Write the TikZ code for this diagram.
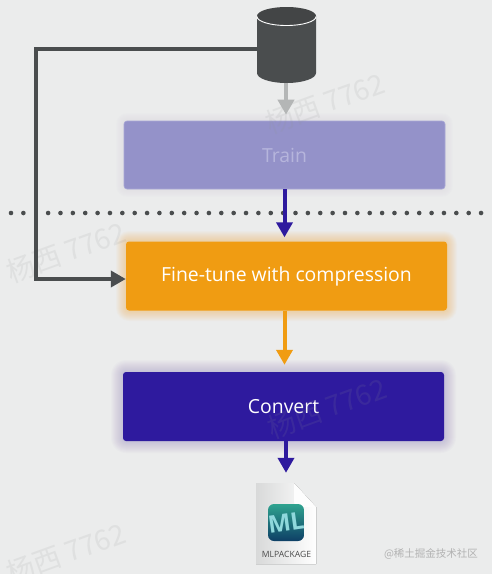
\documentclass[tikz,border=0pt]{standalone}
\usepackage{fontspec}
\setmainfont{Open Sans}
\newfontfamily\cjk{Noto Sans CJK SC}
\usetikzlibrary{arrows.meta,calc}
\definecolor{bg}{HTML}{EBECEC}
\definecolor{dbgrey}{HTML}{4A4D4E}
\definecolor{lightarrow}{HTML}{B4B6B6}
\definecolor{trainfill}{HTML}{9492C9}
\definecolor{trainedge}{HTML}{A9A8D6}
\definecolor{traintext}{HTML}{B6B5DC}
\definecolor{orangefill}{HTML}{F09C12}
\definecolor{indigo}{HTML}{2E1A9E}
\definecolor{wmark}{HTML}{8F9292}
\definecolor{iconteal}{HTML}{2FA38F}
\definecolor{icondeep}{HTML}{0E3F66}
\definecolor{iconice}{HTML}{8FD8DC}
\tikzset{
  x=1pt,y=-1pt,
  stage/.style={rounded corners=3pt,minimum width=321pt,minimum height=69pt,inner sep=0pt,font=\fontsize{19.4}{22}\selectfont,text=white},
  flow/.style={line width=4pt,-{Triangle[length=15pt,width=16pt]}},
  wm/.style={text=wmark,text opacity=.13,font=\cjk\fontsize{28}{32}\selectfont,rotate=20,inner sep=0pt},
  dotmark/.style={circle,fill=dbgrey,inner sep=0pt,minimum size=4.6pt},
}
\newcommand{\glowbox}[7]{% x0 y0 x1 y1 colour opacity maxspread
  \foreach \s in {1,...,#7}{
    \fill[#5,opacity=#6,rounded corners={(\s+3)*1pt}] (#1-\s,#2-\s) rectangle (#3+\s,#4+\s);
  }
}
\begin{document}
\begin{tikzpicture}
\useasboundingbox (0,0) rectangle (492,574);
\fill[bg] (0,0) rectangle (492,574);

% glows
\glowbox{124}{121}{445}{189}{trainfill}{0.012}{8}
\glowbox{126}{241}{447}{311}{orangefill}{0.03}{10}
\glowbox{123}{372}{444}{441}{indigo}{0.014}{12}

% dotted line
\foreach \i in {0,1,3,4,...,38}{
  \node[dotmark] (dot\i) at (11+12.37*\i,213) {};
}

% stages
\node[stage,fill=trainfill,draw=trainedge,line width=.6pt,text=traintext,minimum height=68pt] (train) at (284.5,155) {Train};
\node[stage,fill=orangefill] (fine) at (286.5,276) {\raisebox{-2.5pt}{Fine-tune with compression}};
\node[stage,fill=indigo] (convert) at (283.5,406.5) {Convert};

% watermarks
\node[wm] (wa) at (325,103) {杨西 7762};
\node[wm] (wb) at (66,252) {杨西 7762};
\node[wm] (wc) at (327,408) {杨西 7762};
\node[wm] (wd) at (66,553) {杨西 7762};

% database
\node[minimum width=59pt,minimum height=76pt,inner sep=0pt] (db) at (286.5,45) {};
\fill[dbgrey] (257,16) -- (257,73) arc[start angle=180,end angle=360,x radius=29.5pt,y radius=10pt] -- (316,16) -- cycle;
\fill[dbgrey!90!black] (286.5,16) ellipse[x radius=29.5pt,y radius=9pt];
\draw[white,line width=.9pt] (257,16.5) arc[start angle=180,end angle=360,x radius=29.5pt,y radius=9pt];

% connectors
\coordinate (dbhook) at (db.west |- 0,49);
\coordinate (corner) at (36,49);
\coordinate (cornerb) at (36,279);
\coordinate (finehook) at (fine.west |- 0,279);
\draw[flow,dbgrey] (dbhook) -- (corner) -- (cornerb) -- (finehook);
\draw[flow,lightarrow,shorten >=6pt] (db.south -| 286,0) -- (train.north -| 286,0);
\draw[flow,indigo,shorten >=4pt] (train.south -| 284.5,0) -- (fine.north -| 284.5,0);
\draw[flow,orangefill,shorten >=7pt] (fine.south -| 284.5,0) -- (convert.north -| 284.5,0);

% file icon
\node[minimum width=60pt,minimum height=81pt,inner sep=0pt] (file) at (286,523.5) {};
\draw[flow,indigo] (convert.south -| 286,0) -- ($(file.north)+(0,-10)$);
\fill[left color=bg!92!black,right color=white!97!bg] (256,483) -- (294,483) -- (316,507) -- (316,564) -- (256,564) -- cycle;
\fill[white!88!bg] (294,483) -- (316,507) -- (300,507) .. controls (296,507) and (294,505) .. (294,501) -- cycle;
\shade[top color=iconteal,bottom color=icondeep,rounded corners=6pt] (268,504) rectangle (304,541);
\node[inner sep=0pt,rotate=8,font=\bfseries\fontsize{24}{24}\selectfont,text=iconice] (mlicon) at (286,522.5) {ML};
\node[inner sep=0pt,font=\fontsize{8.6}{9}\selectfont,text=black!70] (mllabel) at (286.5,554) {MLPACKAGE};

% site mark
\node[inner sep=0pt,text=black!30,font=\cjk\fontsize{10.5}{12}\selectfont] (site) at (431,554) {@稀土掘金技术社区};
\end{tikzpicture}
\end{document}
